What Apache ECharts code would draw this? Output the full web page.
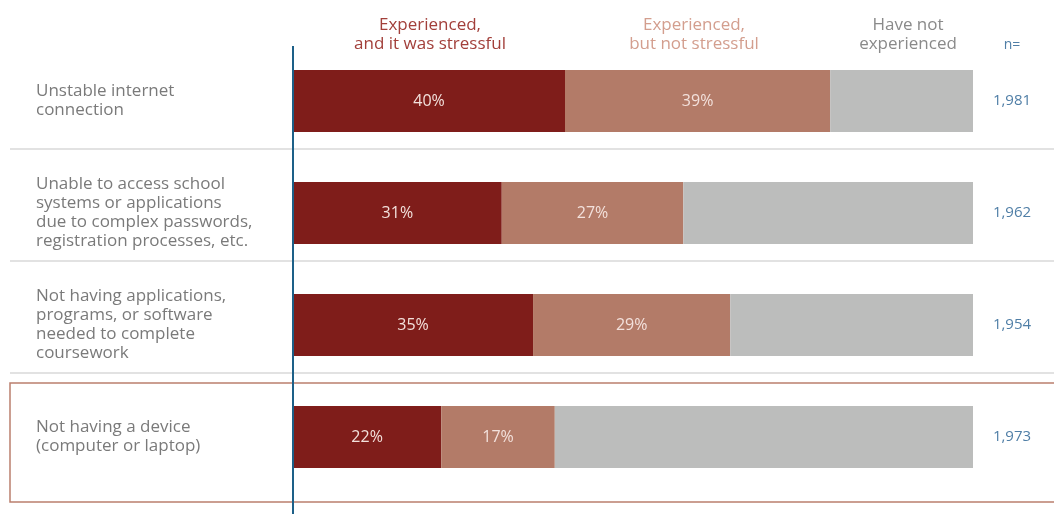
<!DOCTYPE html>
<html>
<head>
<meta charset="utf-8">
<script src="https://cdn.jsdelivr.net/npm/echarts@6/dist/echarts.min.js"></script>
<style>
  html, body { margin: 0; padding: 0; background: #fff; }
  #container { width: 1054px; height: 514px; }
</style>
</head>
<body>
<div id="container"></div>
<script>
var categories = [
    'Unstable internet\nconnection',
    'Unable to access school\nsystems or applications\ndue to complex passwords,\nregistration processes, etc.',
    'Not having applications,\nprograms, or software\nneeded to complete\ncoursework',
    'Not having a device\n(computer or laptop)'
];
var stressful = [40, 30.7, 35.3, 21.8];
var notStressful = [39, 26.7, 29.0, 16.7];
var notExperienced = [21, 42.6, 35.7, 61.5];
var nValues = ['1,981', '1,962', '1,954', '1,973'];
var seriesNames = ['Experienced,\nand it was stressful', 'Experienced,\nbut not stressful', 'Have not\nexperienced'];

var dom = document.getElementById("container");
var myChart = echarts.init(dom);
var font = '"Open Sans", "Noto Sans", sans-serif';

var barLabel = {
    show: true,
    color: '#f3e1dc',
    fontSize: 16,
    fontFamily: font,
    formatter: function (p) { return Math.round(p.value) + '%'; }
};

option = {
    animation: false,
    grid: { left: 293, right: 81, top: 45, bottom: 21 },
    xAxis: { type: 'value', min: 0, max: 100, show: false },
    yAxis: [
        {
            type: 'category',
            inverse: true,
            data: categories,
            axisLine: { show: false },
            axisTick: { show: false },
            axisLabel: {
                align: 'left',
                margin: 257,
                color: '#7a7a7a',
                fontSize: 17,
                lineHeight: 19,
                fontFamily: font,
                padding: [0, 0, 12, 0]
            }
        },
        {
            type: 'category',
            inverse: true,
            position: 'right',
            data: nValues,
            axisLine: { show: false },
            axisTick: { show: false },
            axisLabel: {
                align: 'center',
                margin: 39,
                color: '#4f7ea6',
                fontSize: 15,
                fontFamily: font
            }
        }
    ],
    series: [
        {
            name: seriesNames[0], type: 'bar', stack: 'all', barWidth: 62,
            data: stressful, itemStyle: { color: '#7f1d1a' }, label: barLabel
        },
        {
            name: seriesNames[1], type: 'bar', stack: 'all', barWidth: 62,
            data: notStressful, itemStyle: { color: '#b37b68' }, label: barLabel
        },
        {
            name: seriesNames[2], type: 'bar', stack: 'all', barWidth: 62,
            data: notExperienced, itemStyle: { color: '#bcbdbc' }
        }
    ],
    graphic: [
        { type: 'line', shape: { x1: 10, y1: 149, x2: 1054, y2: 149 }, style: { stroke: '#e2e2e2', lineWidth: 2 }, z: -1 },
        { type: 'line', shape: { x1: 10, y1: 261, x2: 1054, y2: 261 }, style: { stroke: '#e2e2e2', lineWidth: 2 }, z: -1 },
        { type: 'line', shape: { x1: 10, y1: 373, x2: 1054, y2: 373 }, style: { stroke: '#e2e2e2', lineWidth: 2 }, z: -1 },
        { type: 'rect', shape: { x: 10, y: 383, width: 1060, height: 119 }, style: { fill: 'none', stroke: '#bb7f6d', lineWidth: 1.5 }, z: -1 },
        { type: 'line', shape: { x1: 293, y1: 46, x2: 293, y2: 514 }, style: { stroke: '#1d6088', lineWidth: 2 }, z: 10 },
        { type: 'text', style: { text: seriesNames[0], x: 430, y: 16, textAlign: 'center', fill: '#a23f3a', fontSize: 17, lineHeight: 19, fontFamily: font } },
        { type: 'text', style: { text: seriesNames[1], x: 694, y: 16, textAlign: 'center', fill: '#d39e8e', fontSize: 17, lineHeight: 19, fontFamily: font } },
        { type: 'text', style: { text: seriesNames[2], x: 908, y: 16, textAlign: 'center', fill: '#8a8a8a', fontSize: 17, lineHeight: 19, fontFamily: font } },
        { type: 'text', style: { text: 'n=', x: 1012, y: 38, textAlign: 'center', fill: '#4f7ea6', fontSize: 14, fontFamily: font } }
    ]
};
myChart.setOption(option, true);
</script>
</body>
</html>
